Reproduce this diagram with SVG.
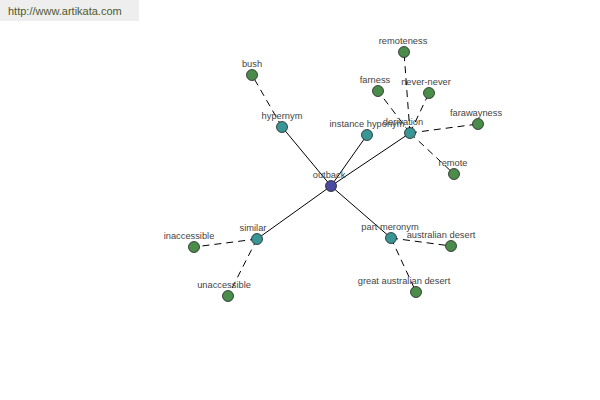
<svg xmlns="http://www.w3.org/2000/svg" width="600" height="400" viewBox="0 0 600 400">
<style>
.e{stroke:#000;stroke-width:1;fill:none}
.d{stroke-dasharray:7,5}
circle{stroke:#222;stroke-width:0.8}
.root{fill:#4a4aa0}
.rel{fill:#3a9595}
.leaf{fill:#4a8c4a}
text{font-family:"Liberation Sans",Arial,sans-serif;font-size:9.3px;fill:#444;text-anchor:middle}
</style>
<rect x="0" y="0" width="600" height="400" fill="#fff"/>
<g id="watermark">
<rect x="0" y="0" width="139" height="21" fill="#eeeeee"/>
<text x="8" y="15" style="text-anchor:start;font-size:11px;fill:#4d5a2e">http://www.artikata.com</text>
</g>
<g id="connectors">
<line class="e" x1="331" y1="186" x2="282" y2="127"/>
<line class="e" x1="331" y1="186" x2="367" y2="135"/>
<line class="e" x1="331" y1="186" x2="410" y2="133"/>
<line class="e" x1="331" y1="186" x2="257" y2="239"/>
<line class="e" x1="331" y1="186" x2="391" y2="238"/>
<line class="e d" x1="282" y1="127" x2="252" y2="75"/>
<line class="e d" x1="410" y1="133" x2="404" y2="52"/>
<line class="e d" x1="410" y1="133" x2="378" y2="91"/>
<line class="e d" x1="410" y1="133" x2="429" y2="93"/>
<line class="e d" x1="410" y1="133" x2="478" y2="124"/>
<line class="e d" x1="410" y1="133" x2="454" y2="174"/>
<line class="e d" x1="257" y1="239" x2="194" y2="247"/>
<line class="e d" x1="257" y1="239" x2="228" y2="296"/>
<line class="e d" x1="391" y1="238" x2="451" y2="246"/>
<line class="e d" x1="391" y1="238" x2="416" y2="292"/>
</g>
<g id="outback"><circle class="root" cx="331" cy="186" r="5.5"/><text x="329" y="178">outback</text></g>
<g id="hypernym"><circle class="rel" cx="282" cy="127" r="5.5"/><text x="282" y="119">hypernym</text></g>
<g id="instance-hyponym"><circle class="rel" cx="367" cy="135" r="5.5"/><text x="367" y="127">instance hyponym</text></g>
<g id="derivation"><circle class="rel" cx="410" cy="133" r="5.5"/><text x="403" y="125">derivation</text></g>
<g id="similar"><circle class="rel" cx="257" cy="239" r="5.5"/><text x="253" y="231">similar</text></g>
<g id="part-meronym"><circle class="rel" cx="391" cy="238" r="5.5"/><text x="390" y="230">part meronym</text></g>
<g id="bush"><circle class="leaf" cx="252" cy="75" r="5.5"/><text x="252" y="67">bush</text></g>
<g id="remoteness"><circle class="leaf" cx="404" cy="52" r="5.5"/><text x="403" y="44">remoteness</text></g>
<g id="farness"><circle class="leaf" cx="378" cy="91" r="5.5"/><text x="375" y="83">farness</text></g>
<g id="never-never"><circle class="leaf" cx="429" cy="93" r="5.5"/><text x="426" y="85">never-never</text></g>
<g id="farawayness"><circle class="leaf" cx="478" cy="124" r="5.5"/><text x="476" y="116">farawayness</text></g>
<g id="remote"><circle class="leaf" cx="454" cy="174" r="5.5"/><text x="453" y="166">remote</text></g>
<g id="inaccessible"><circle class="leaf" cx="194" cy="247" r="5.5"/><text x="189" y="239">inaccessible</text></g>
<g id="unaccessible"><circle class="leaf" cx="228" cy="296" r="5.5"/><text x="224" y="288">unaccessible</text></g>
<g id="australian-desert"><circle class="leaf" cx="451" cy="246" r="5.5"/><text x="441" y="238">australian desert</text></g>
<g id="great-australian-desert"><circle class="leaf" cx="416" cy="292" r="5.5"/><text x="404" y="284">great australian desert</text></g>
</svg>
